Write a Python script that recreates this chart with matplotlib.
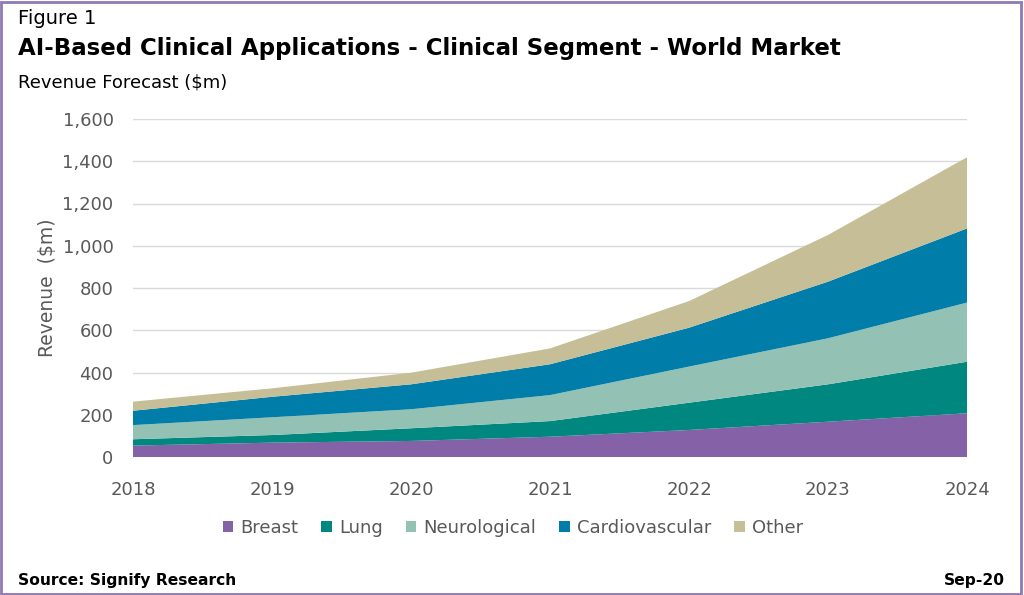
import matplotlib
matplotlib.use("Agg")
import matplotlib.pyplot as plt
from matplotlib.patches import Rectangle, Patch

years = [2018, 2019, 2020, 2021, 2022, 2023, 2024]
series_names = ["Breast", "Lung", "Neurological", "Cardiovascular", "Other"]
breast = [54, 68, 76, 96, 128, 167, 207]
lung = [30, 36, 60, 74, 129, 177, 244]
neuro = [67, 84, 90, 123, 171, 218, 280]
cardio = [68, 97, 118, 146, 184, 268, 351]
other = [43, 40, 55, 75, 126, 221, 337]
colors = ["#8561A8", "#00877F", "#93C2B4", "#007DA8", "#C6BE96"]
yticks = [0, 200, 400, 600, 800, 1000, 1200, 1400, 1600]

plt.rcParams['font.family'] = ['DejaVu Sans']

fig = plt.figure(figsize=(10.24, 5.95), dpi=100)
ax = fig.add_axes([133/1024, 1-457/595, (967-133)/1024, (457-119)/595])

ax.stackplot(years, breast, lung, neuro, cardio, other, colors=colors,
             labels=series_names, linewidth=0, zorder=2)
ax.set_xlim(2018, 2024)
ax.set_ylim(0, 1600)
ax.set_yticks(yticks)
ax.set_yticklabels([f"{v:,}" for v in yticks])
ax.set_xticks(years)
ax.grid(axis='y', color='#D9D9D9', linewidth=1, zorder=0)
ax.set_axisbelow(True)
for s in ax.spines.values():
    s.set_visible(False)
ax.tick_params(axis='both', length=0, labelsize=13, colors='#595959')
ax.tick_params(axis='x', pad=17)
ax.tick_params(axis='y', pad=14)
ax.set_ylabel("Revenue  ($m)", fontsize=13.5, color='#595959', labelpad=4)

handles = [Patch(facecolor=c, edgecolor='none') for c in colors]
fig.legend(handles, series_names, loc='center', bbox_to_anchor=(513/1024, 1-528/595),
           ncol=5, frameon=False, fontsize=13, handlelength=0.6, handleheight=0.6,
           handletextpad=0.4, columnspacing=1.25, labelcolor='#595959')

fig.text(18/1024, 1-18/595, "Figure 1", fontsize=14, va='center', ha='left', color='#000000')
fig.text(18/1024, 1-48/595, "AI-Based Clinical Applications - Clinical Segment - World Market",
         fontsize=16.5, fontweight='bold', va='center', ha='left', color='#000000')
fig.text(18/1024, 1-82/595, "Revenue Forecast ($m)", fontsize=13, va='center', ha='left', color='#000000')
fig.text(18/1024, 1-580/595, "Source: Signify Research", fontsize=11.2, fontweight='bold',
         va='center', ha='left', color='#000000')
fig.text(1005/1024, 1-580/595, "Sep-20", fontsize=11.2, fontweight='bold',
         va='center', ha='right', color='#000000')

fig.patches.append(Rectangle((1/1024, 1/595), 1020/1024, 592/595, transform=fig.transFigure,
                             fill=False, edgecolor='#8E7AB5', linewidth=2))

fig.savefig("out.png", dpi=100)
